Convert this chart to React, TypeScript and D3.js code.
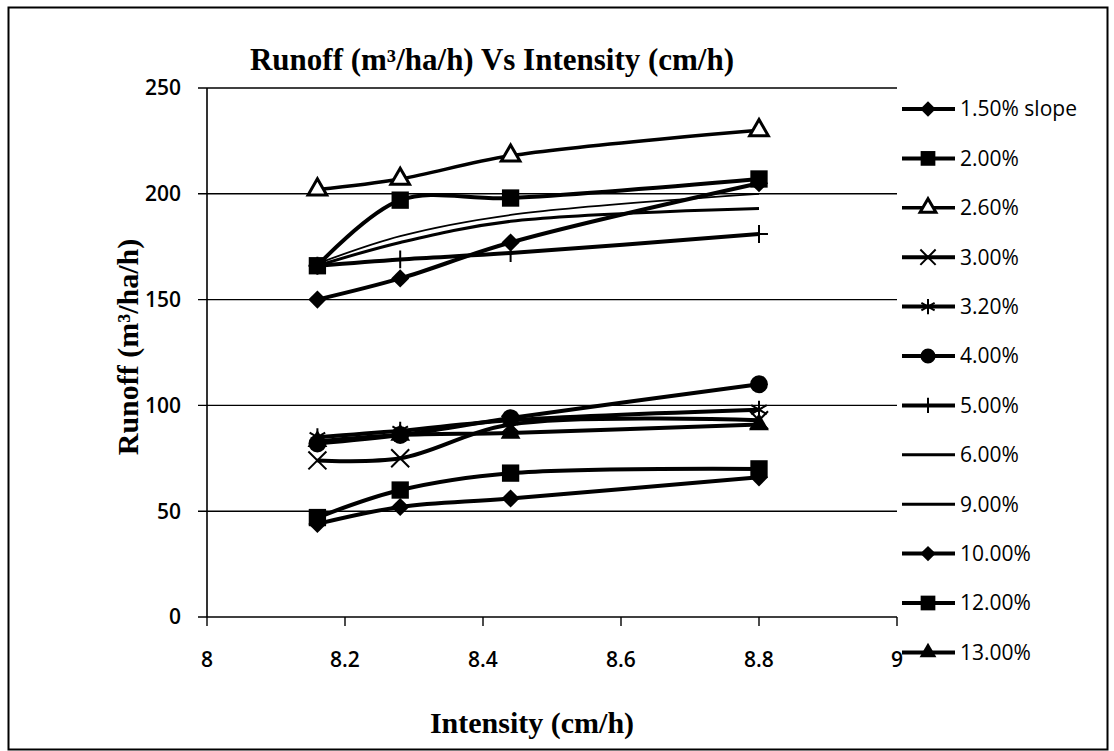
import React from 'react';
import * as d3 from 'd3';

// intensity (cm/h) at which runoff was measured
const intensity = [8.16, 8.28, 8.44, 8.8];

// runoff (m3/ha/h) per slope
const slope150 = [150, 160, 177, 205];
const slope200 = [166, 197, 198, 207];
const slope260 = [202, 207, 218, 230];
const slope300 = [74, 75, 91, 93];
const slope320 = [85, 88, 93, 98];
const slope400 = [82, 86, 94, 110];
const slope500 = [166, 169, 172, 181];
const slope600 = [166, 177, 187, 193];
const slope900 = [167, 180, 190, 200];
const slope1000 = [44, 52, 56, 66];
const slope1200 = [47, 60, 68, 70];
const slope1300 = [83, 86, 87, 91];

const slopeLabels = ['1.50% slope', '2.00%', '2.60%', '3.00%', '3.20%', '4.00%', '5.00%', '6.00%', '9.00%', '10.00%', '12.00%', '13.00%'];
const slopeValues = [slope150, slope200, slope260, slope300, slope320, slope400, slope500, slope600, slope900, slope1000, slope1200, slope1300];

const xTicks = [8, 8.2, 8.4, 8.6, 8.8, 9];
const yTicks = [0, 50, 100, 150, 200, 250];

// marker + line style per series (same order as slopeLabels)
const styles = [
  { marker: 'diamond', lw: 4 },
  { marker: 'square', lw: 4 },
  { marker: 'triOpen', lw: 3.5 },
  { marker: 'times', lw: 4 },
  { marker: 'asterisk', lw: 4 },
  { marker: 'circle', lw: 4 },
  { marker: 'plus', lw: 4 },
  { marker: 'none', lw: 3 },
  { marker: 'none', lw: 1.8 },
  { marker: 'diamond', lw: 4 },
  { marker: 'square', lw: 4 },
  { marker: 'triangle', lw: 4 },
];

const W = 1114;
const H = 751;

const x = d3.scaleLinear().domain([8, 9]).range([207, 897]);
const y = d3.scaleLinear().domain([0, 250]).range([617, 88]);

const line = d3.line<number>()
  .x((_, i) => x(intensity[i]))
  .y(d => y(d))
  .curve(d3.curveCatmullRom.alpha(0.5));

const Marker = ({ type, cx, cy, k = 1 }) => {
  const t = `translate(${cx},${cy})`;
  switch (type) {
    case 'diamond':
      return <path d={d3.symbol(d3.symbolSquare, 165 * k * k)()} transform={`${t} rotate(45)`} fill="#000" />;
    case 'square':
      return <path d={d3.symbol(d3.symbolSquare, 300 * k * k)()} transform={t} fill="#000" />;
    case 'triOpen':
      return <path d={d3.symbol(d3.symbolTriangle, 150 * k * k)()} transform={t} fill="#fff" stroke="#000" strokeWidth={3} />;
    case 'triangle':
      return <path d={d3.symbol(d3.symbolTriangle, 170 * k * k)()} transform={t} fill="#000" />;
    case 'times':
      return <path d={d3.symbol(d3.symbolTimes, 213 * k * k)()} transform={t} fill="none" stroke="#000" strokeWidth={2} />;
    case 'asterisk':
      return <path d={d3.symbol(d3.symbolAsterisk, 228 * k * k)()} transform={t} fill="none" stroke="#000" strokeWidth={2} />;
    case 'circle':
      return <path d={d3.symbol(d3.symbolCircle, 250 * k * k)()} transform={t} fill="#000" />;
    case 'plus':
      return <path d={d3.symbol(d3.symbolPlus, 107 * k * k)()} transform={t} fill="none" stroke="#000" strokeWidth={2} />;
    default:
      return null;
  }
};

const serif = '"Liberation Serif", "Times New Roman", serif';
const sans = '"Open Sans", "DejaVu Sans", sans-serif';

export default function App() {
  return (
    <div style={{ position: 'fixed', left: 0, top: 0, background: '#fff' }}>
      <svg width={W} height={H} style={{ display: 'block' }}>
        <rect x={0} y={0} width={W} height={H} fill="#fff" />
        <rect x={8.5} y={7.5} width={1099} height={742} fill="none" stroke="#000" strokeWidth={2} />

        {/* gridlines + y ticks */}
        {yTicks.map(t => (
          <g key={t}>
            <line x1={198} x2={897} y1={y(t)} y2={y(t)} stroke="#000" strokeWidth={1.4} />
            <text x={181} y={y(t)} dy="0.35em" textAnchor="end" fontFamily={sans} fontWeight={600} fontSize={21}>{t}</text>
          </g>
        ))}
        <line x1={x(8)} x2={x(8)} y1={y(250)} y2={y(0)} stroke="#000" strokeWidth={1.6} />
        {xTicks.map(t => (
          <g key={t}>
            <line x1={x(t)} x2={x(t)} y1={y(0)} y2={y(0) + 9} stroke="#000" strokeWidth={1.4} />
            <text x={x(t)} y={660} dy="0.35em" textAnchor="middle" fontFamily={sans} fontWeight={600} fontSize={21}>{t}</text>
          </g>
        ))}

        {/* series */}
        {slopeValues.map((vals, si) => (
          <g key={slopeLabels[si]}>
            <path d={line(vals)} fill="none" stroke="#000" strokeWidth={styles[si].lw} />
            {vals.map((v, i) => (
              <Marker key={i} type={styles[si].marker} cx={x(intensity[i])} cy={y(v)} />
            ))}
          </g>
        ))}

        {/* legend */}
        {slopeLabels.map((lab, i) => {
          const ly = 109 + i * 49.4;
          return (
            <g key={lab}>
              <line x1={902} x2={955} y1={ly} y2={ly} stroke="#000" strokeWidth={Math.max(styles[i].lw, 3)} />
              <Marker type={styles[i].marker} cx={928} cy={ly} k={0.85} />
              <text x={960} y={ly} dy="0.35em" fontFamily={sans} fontWeight={500} fontSize={21}>{lab}</text>
            </g>
          );
        })}

        {/* titles */}
        <text x={492} y={70} textAnchor="middle" fontFamily={serif} fontWeight="bold" fontSize={31}>
          Runoff (m³/ha/h) Vs Intensity (cm/h)
        </text>
        <text transform="translate(138,347) rotate(-90)" textAnchor="middle" fontFamily={serif} fontWeight="bold" fontSize={30}>
          Runoff (m³/ha/h)
        </text>
        <text x={532} y={733} textAnchor="middle" fontFamily={serif} fontWeight="bold" fontSize={30}>
          Intensity (cm/h)
        </text>
      </svg>
    </div>
  );
}
